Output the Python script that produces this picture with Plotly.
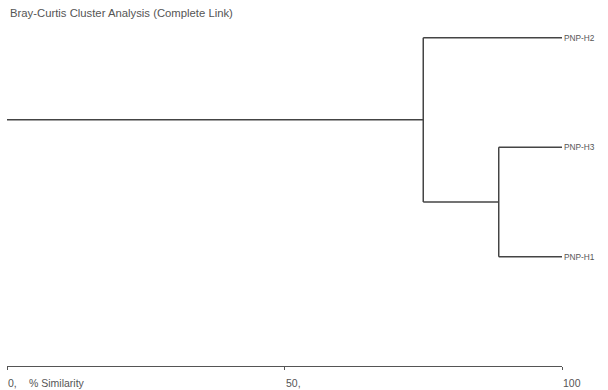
import plotly.graph_objects as go

# ── Data: complete-link Bray-Curtis dendrogram ──────────────────────
LEAVES = ["PNP-H2", "PNP-H3", "PNP-H1"]
LEAF_POS = [2, 1, 0]                 # vertical order, top to bottom
LEAF_SIM = 100
# merge levels (% similarity)
MERGE_H3_H1 = 88.6
MERGE_ROOT = 75.0
X_TICKS = [0, 50, 100]
X_TICK_TEXT = ["0,", "50,", "100"]

LINE = dict(color="#444", width=1.5)
FONT = "Liberation Sans, Arial, sans-serif"
NARROW = "Liberation Sans Narrow, Arial Narrow, Liberation Sans, sans-serif"
TXT = "#555"

# build segments
h2, h3, h1 = LEAF_POS
node_a_y = (h3 + h1) / 2
root_y = (h2 + node_a_y) / 2
xs, ys = [], []


def seg(x0, y0, x1, y1):
    xs.extend([x0, x1, None])
    ys.extend([y0, y1, None])


seg(LEAF_SIM, h3, MERGE_H3_H1, h3)
seg(LEAF_SIM, h1, MERGE_H3_H1, h1)
seg(MERGE_H3_H1, h3, MERGE_H3_H1, h1)
seg(LEAF_SIM, h2, MERGE_ROOT, h2)
seg(MERGE_H3_H1, node_a_y, MERGE_ROOT, node_a_y)
seg(MERGE_ROOT, h2, MERGE_ROOT, node_a_y)
seg(MERGE_ROOT, root_y, 0, root_y)

fig = go.Figure()
fig.add_trace(go.Scatter(
    x=xs, y=ys, mode="lines", line=LINE,
    hoverinfo="skip", showlegend=False,
))

# x tick labels, left-anchored at the tick like the original
for val, txt in zip(X_TICKS, X_TICK_TEXT):
    fig.add_annotation(
        x=val, y=0, xref="x", yref="paper", yshift=-17,
        text=txt, showarrow=False, xanchor="left", yanchor="middle",
        xshift=-1,
        font=dict(family=FONT, size=10.5, color=TXT),
    )
fig.add_annotation(
    x=3.6, y=0, xref="x", yref="paper", yshift=-17,
    text="% Similarity", showarrow=False, xanchor="left", yanchor="middle",
    font=dict(family=FONT, size=10.5, color=TXT),
)

fig.update_layout(
    width=608, height=390,
    paper_bgcolor="white", plot_bgcolor="white",
    margin=dict(l=7, r=46, t=20, b=24, autoexpand=False),
    title=dict(
        text="Bray-Curtis Cluster Analysis (Complete Link)",
        x=10 / 608, xanchor="left", y=1 - 13 / 390, yanchor="middle",
        font=dict(family=FONT, size=11.3, color=TXT),
    ),
    xaxis=dict(
        range=[0, 100], tickvals=X_TICKS, ticktext=["", "", ""],
        showline=True, linecolor="#555", linewidth=1.3,
        ticks="outside", ticklen=3, tickcolor="#555",
        showgrid=False, zeroline=False, fixedrange=True,
    ),
    yaxis=dict(
        range=[-0.998, 2.162], side="right",
        tickvals=LEAF_POS, ticktext=LEAVES,
        showgrid=False, zeroline=False, showline=False, ticks="",
        tickfont=dict(family=NARROW, size=8.3, color=TXT),
        ticklabelstandoff=1, fixedrange=True,
    ),
    font=dict(family=FONT, color=TXT),
)

fig.write_html(
    "out.html",
    config={"displayModeBar": False},
    post_script="document.body.style.margin='0';",
)
